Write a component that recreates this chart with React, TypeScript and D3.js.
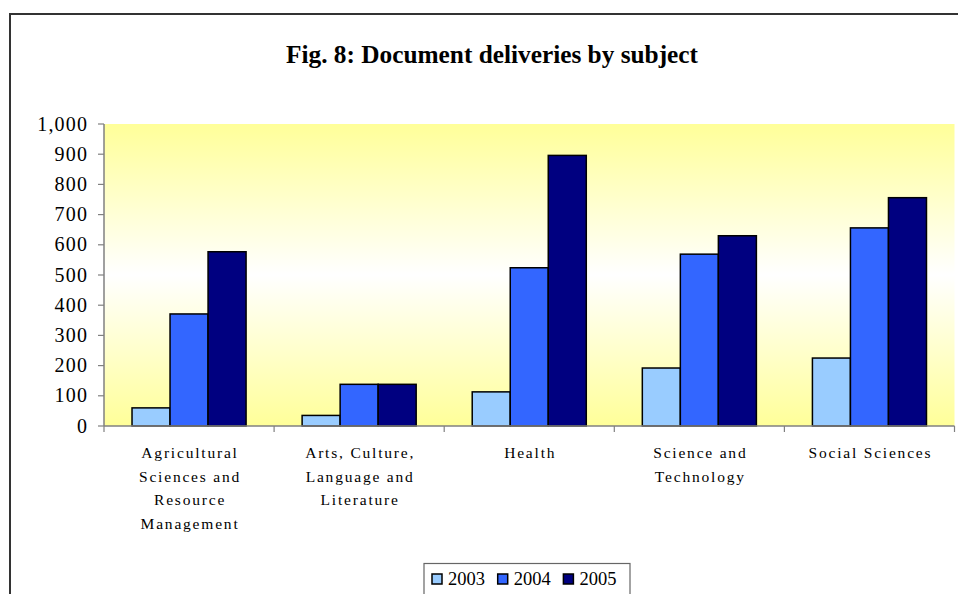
import React from "react";
import * as d3 from "d3";

const categories = [
  "Agricultural Sciences and Resource Management",
  "Arts, Culture, Language and Literature",
  "Health",
  "Science and Technology",
  "Social Sciences",
];
const categoryLines = [
  ["Agricultural", "Sciences and", "Resource", "Management"],
  ["Arts, Culture,", "Language and", "Literature"],
  ["Health"],
  ["Science and", "Technology"],
  ["Social Sciences"],
];
const years = ["2003", "2004", "2005"];
const values2003 = [60, 35, 113, 192, 225];
const values2004 = [371, 138, 524, 569, 656];
const values2005 = [577, 138, 896, 630, 756];
const yTicks = [0, 100, 200, 300, 400, 500, 600, 700, 800, 900, 1000];
const colors = ["#99CCFF", "#3366FF", "#000080"];

const W = 958;
const H = 594;
const FONT = "Liberation Serif, Times New Roman, serif";
const ts: React.CSSProperties = { fontFamily: FONT };

export default function App() {
  const plot = { left: 104, right: 954.5, top: 124, bottom: 426 };
  const x0 = d3.scaleBand<string>().domain(categories).range([plot.left, plot.right]).padding(0);
  const x1 = d3
    .scaleBand<string>()
    .domain(years)
    .range([0, x0.bandwidth()])
    .paddingInner(0)
    .paddingOuter(0.737);
  const y = d3.scaleLinear().domain([0, 1000]).range([plot.bottom, plot.top]);
  const series = [values2003, values2004, values2005];
  const fmt = d3.format(",");

  const boundaries = categories.map((c) => x0(c) as number).concat([plot.right]);

  return (
    <svg
      width={W}
      height={H}
      style={{ position: "absolute", left: 0, top: 0, background: "#fff", fontFamily: FONT }}
    >
      <defs>
        <linearGradient id="bg" x1="0" y1="0" x2="0" y2="1">
          <stop offset="0" stopColor="#FFFF99" />
          <stop offset="0.5" stopColor="#FFFFFF" />
          <stop offset="1" stopColor="#FFFF99" />
        </linearGradient>
      </defs>
      {/* outer frame */}
      <path d={`M10,${H + 5} L10,14 L${W + 5},14`} fill="none" stroke="#333" strokeWidth={2} />

      <text
        x={492}
        y={63}
        textAnchor="middle"
        fontSize={25}
        fontWeight="bold"
        textLength={412}
        lengthAdjust="spacingAndGlyphs"
        style={ts}
      >
        Fig. 8: Document deliveries by subject
      </text>

      <rect
        x={plot.left}
        y={plot.top}
        width={plot.right - plot.left}
        height={plot.bottom - plot.top}
        fill="url(#bg)"
      />

      {series.map((vals, si) =>
        categories.map((c, ci) => (
          <rect
            key={`${si}-${ci}`}
            x={(x0(c) as number) + (x1(years[si]) as number)}
            y={y(vals[ci])}
            width={x1.bandwidth()}
            height={y(0) - y(vals[ci])}
            fill={colors[si]}
            stroke="#000"
            strokeWidth={1.5}
          />
        ))
      )}

      {/* y axis */}
      <line x1={plot.left} x2={plot.left} y1={plot.top} y2={plot.bottom} stroke="#808080" strokeWidth={1.5} />
      {yTicks.map((t) => (
        <g key={t}>
          <line x1={plot.left - 6} x2={plot.left} y1={y(t)} y2={y(t)} stroke="#808080" strokeWidth={1.2} />
          <text x={88.2} y={y(t) + 6.5} textAnchor="end" fontSize={20} letterSpacing={1.2} style={ts}>
            {fmt(t)}
          </text>
        </g>
      ))}

      {/* x axis */}
      <line x1={plot.left} x2={plot.right} y1={plot.bottom} y2={plot.bottom} stroke="#808080" strokeWidth={1.5} />
      {boundaries.map((bx, i) => (
        <line key={i} x1={bx} x2={bx} y1={plot.bottom} y2={plot.bottom + 6} stroke="#808080" strokeWidth={1.2} />
      ))}
      {categories.map((c, ci) => (
        <text
          key={c}
          x={(x0(c) as number) + x0.bandwidth() / 2}
          y={458}
          textAnchor="middle"
          fontSize={15.5}
          letterSpacing={1.8}
          style={ts}
        >
          {categoryLines[ci].map((ln, li) => (
            <tspan key={li} x={(x0(c) as number) + x0.bandwidth() / 2 + 1} y={458 + li * 23.5}>
              {ln}
            </tspan>
          ))}
        </text>
      ))}

      {/* legend */}
      <rect x={424} y={563.5} width={206} height={60} fill="#fff" stroke="#666" strokeWidth={1.2} />
      {years.map((yr, i) => (
        <g key={yr} transform={`translate(${432 + i * 65.7},0)`}>
          <rect x={0} y={574} width={10} height={10} fill={colors[i]} stroke="#000" strokeWidth={1.5} />
          <text x={16} y={585} fontSize={18.5} style={ts}>
            {yr}
          </text>
        </g>
      ))}
    </svg>
  );
}
